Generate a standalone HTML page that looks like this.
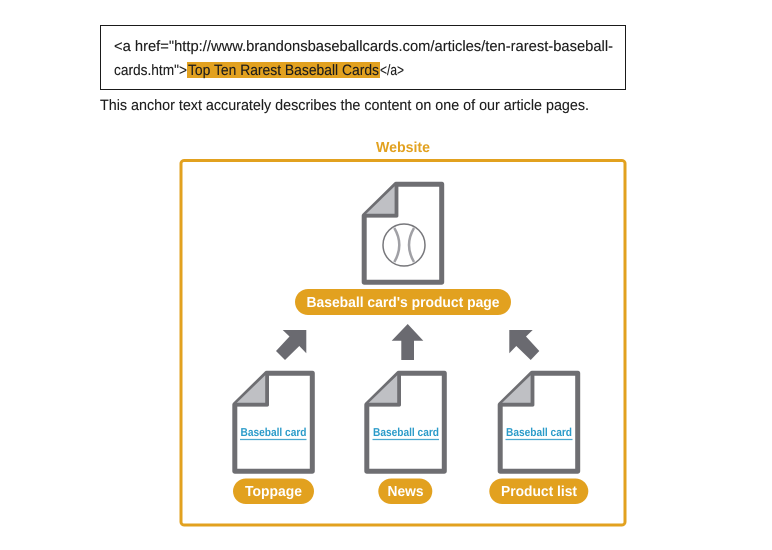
<!DOCTYPE html>
<html><head><meta charset="utf-8"><style>
html,body{margin:0;padding:0;background:#fff;width:772px;height:550px;overflow:hidden}
svg{display:block}
text{font-family:"Liberation Sans",Arial,sans-serif;text-rendering:geometricPrecision}
</style></head><body>
<svg width="772" height="550" viewBox="0 0 772 550" xmlns="http://www.w3.org/2000/svg">
<defs>
<g id="doc">
<path d="M0 31.500L32 0H77.500V98H0Z" fill="#fff" stroke="#6e6e72" stroke-width="5" stroke-linejoin="round"/>
<path d="M1.500 30L31.500 1V30Z" fill="#bfc0c4"/>
<path d="M0 31.500H32.300V0" fill="none" stroke="#6e6e72" stroke-width="3.800" stroke-linejoin="round"/>
</g>
</defs>
<rect x="100.500" y="25.500" width="525" height="64" fill="#fff" stroke="#1a1a1a" stroke-width="1"/>
<rect x="187" y="62" width="193" height="16" fill="#e2a11f"/>
<g font-size="15" fill="#1c1c1c" stroke="#1c1c1c" stroke-width="0.120">
<text x="114" y="51" textLength="499" lengthAdjust="spacingAndGlyphs">&lt;a href="http://www.brandonsbaseballcards.com/articles/ten-rarest-baseball-</text>
<text x="114" y="75" textLength="73" lengthAdjust="spacingAndGlyphs">cards.htm"&gt;</text>
<text x="188" y="75" textLength="191" lengthAdjust="spacingAndGlyphs">Top Ten Rarest Baseball Cards</text>
<text x="380" y="75" textLength="24" lengthAdjust="spacingAndGlyphs">&lt;/a&gt;</text>
<text x="100" y="110" textLength="489" lengthAdjust="spacingAndGlyphs">This anchor text accurately describes the content on one of our article pages.</text>
</g>
<text x="403" y="152" font-size="14.500" font-weight="bold" fill="#e2a11f" text-anchor="middle" textLength="54" lengthAdjust="spacingAndGlyphs">Website</text>
<rect x="181" y="160.500" width="444" height="364.500" rx="3" fill="#fff" stroke="#e2a11f" stroke-width="3"/>
<use href="#doc" x="364.200" y="184.200"/>
<use href="#doc" x="234.800" y="373.200"/>
<use href="#doc" x="366.800" y="373.200"/>
<use href="#doc" x="500.200" y="373.200"/>
<circle cx="404" cy="245" r="21" fill="#fff" stroke="#77777b" stroke-width="1.500"/>
<path d="M394.300 228Q404.300 245 394.300 262M414 228Q404 245 414 262" fill="none" stroke="#a0a0a5" stroke-width="2.500"/>
<rect x="295" y="289" width="216" height="26" rx="13" fill="#e2a11f"/>
<text x="403" y="307" font-size="14.500" font-weight="bold" fill="#fff" text-anchor="middle" textLength="193" lengthAdjust="spacingAndGlyphs">Baseball card's product page</text>
<rect x="233" y="478.500" width="81" height="25.500" rx="12.750" fill="#e2a11f"/>
<text x="273.500" y="496" font-size="14.500" font-weight="bold" fill="#fff" text-anchor="middle" textLength="57" lengthAdjust="spacingAndGlyphs">Toppage</text>
<rect x="378.300" y="478.500" width="54" height="25.500" rx="12.750" fill="#e2a11f"/>
<text x="405.500" y="496" font-size="14.500" font-weight="bold" fill="#fff" text-anchor="middle" textLength="36" lengthAdjust="spacingAndGlyphs">News</text>
<rect x="489.300" y="478.500" width="99" height="25.500" rx="12.750" fill="#e2a11f"/>
<text x="539" y="496" font-size="14.500" font-weight="bold" fill="#fff" text-anchor="middle" textLength="76" lengthAdjust="spacingAndGlyphs">Product list</text>
<g font-size="11.500" font-weight="bold" fill="#2b9bc9">
<text x="240.500" y="436" textLength="66" lengthAdjust="spacingAndGlyphs">Baseball card</text>
<text x="373" y="436" textLength="66" lengthAdjust="spacingAndGlyphs">Baseball card</text>
<text x="506" y="436" textLength="66" lengthAdjust="spacingAndGlyphs">Baseball card</text>
</g>
<g stroke="#4aa8cf" stroke-width="1.200">
<line x1="240" y1="439.500" x2="306.500" y2="439.500"/>
<line x1="372.500" y1="439.500" x2="439" y2="439.500"/>
<line x1="505.500" y1="439.500" x2="572.500" y2="439.500"/>
</g>
<g fill="#6a6a70">
<polygon points="306.300,330 306.300,353.300 299.300,346 285,360 276,351 289.500,336.500 282.700,330"/>
<polygon points="407.700,324 423.300,340.700 414,340.700 414,360 401.300,360 401.300,340.700 391.700,340.700"/>
<polygon points="509.300,330 532.700,330 526,336.500 539.300,351 530.700,360 516.300,346 509.300,353.300"/>
</g>
</svg>
</body></html>
